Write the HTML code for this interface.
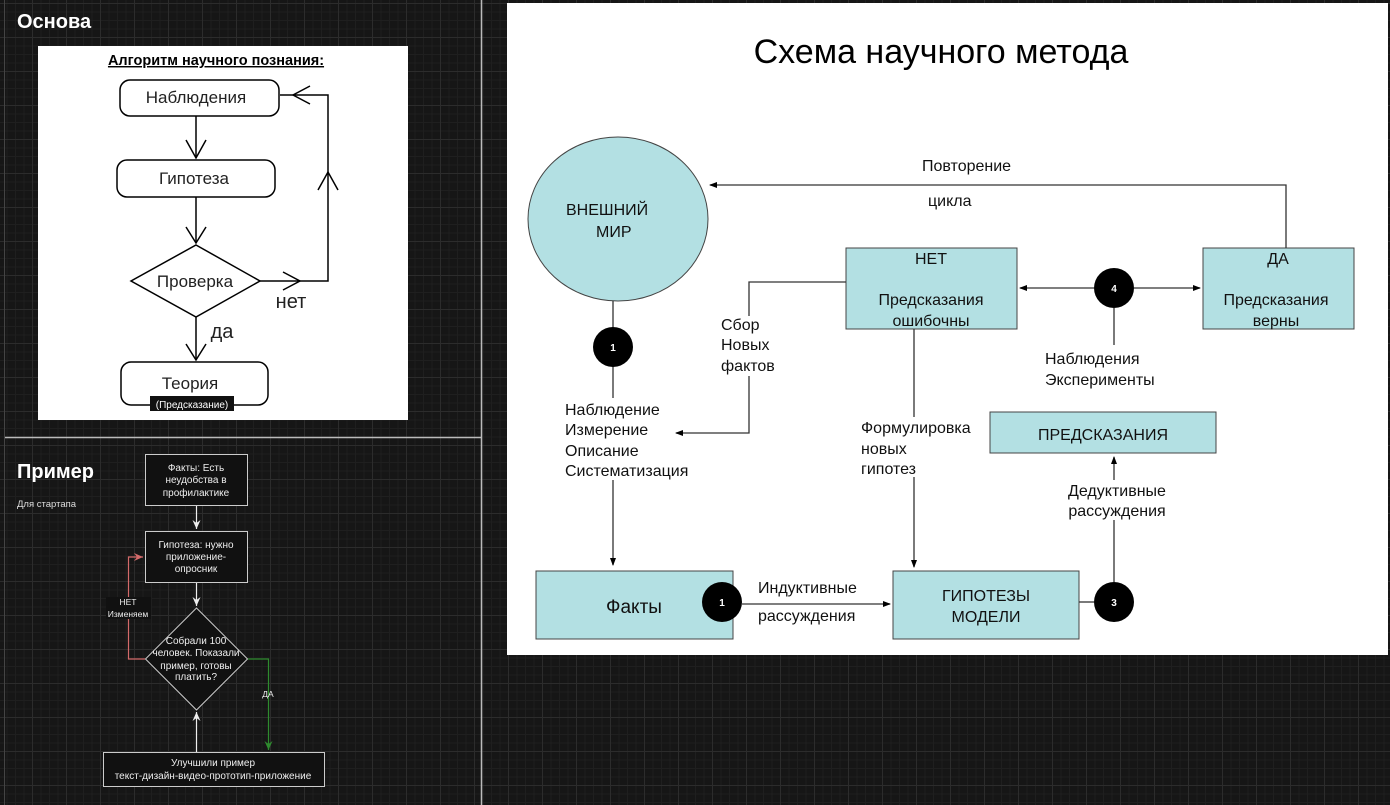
<!DOCTYPE html>
<html><head><meta charset="utf-8"><style>
html,body{margin:0;padding:0;width:1390px;height:805px;overflow:hidden}
body{background-color:#161616;
background-image:
linear-gradient(#2c2c2c 1px,transparent 1px),
linear-gradient(90deg,#2c2c2c 1px,transparent 1px),
linear-gradient(#1f1f1f 1px,transparent 1px),
linear-gradient(90deg,#1f1f1f 1px,transparent 1px);
background-size:34px 34px,34px 34px,8.5px 8.5px,8.5px 8.5px;
background-position:0 3px,-2px 0,0 3px,-2px 0;
font-family:"Liberation Sans",sans-serif}
svg{position:absolute;left:0;top:0}
</style></head><body>
<svg width="1390" height="805" viewBox="0 0 1390 805" font-family="Liberation Sans, sans-serif">
<defs>
<marker id="ab" markerWidth="8" markerHeight="8" refX="7" refY="4" orient="auto" markerUnits="userSpaceOnUse"><path d="M0,1 L8,4 L0,7z" fill="#000"/></marker>
<marker id="aw" markerWidth="10" markerHeight="10" refX="9" refY="5" orient="auto" markerUnits="userSpaceOnUse"><path d="M0,1 L9,5 L0,9 L3,5z" fill="#eee"/></marker>
<marker id="ar" markerWidth="10" markerHeight="10" refX="9" refY="5" orient="auto" markerUnits="userSpaceOnUse"><path d="M0,1 L9,5 L0,9 L3,5z" fill="#d46a6a"/></marker>
<marker id="ag" markerWidth="10" markerHeight="10" refX="9" refY="5" orient="auto" markerUnits="userSpaceOnUse"><path d="M0,1 L9,5 L0,9 L3,5z" fill="#2e8b2e"/></marker>
</defs>
<line x1="4.5" y1="0" x2="4.5" y2="805" stroke="#444" stroke-width="1"/>
<line x1="481.5" y1="0" x2="481.5" y2="805" stroke="#bbb" stroke-width="1.5"/>
<line x1="5" y1="437.5" x2="481" y2="437.5" stroke="#bbb" stroke-width="1.5"/>

<text x="17" y="28" fill="#fff" font-size="20" font-weight="bold">Основа</text>
<rect x="38" y="46" width="370" height="374" fill="#fff"/>
<text x="216" y="65" font-size="14.5" font-weight="bold" text-anchor="middle" text-decoration="underline" fill="#000">Алгоритм научного познания:</text>
<g fill="none" stroke="#000" stroke-width="1.5">
<rect x="120" y="80" width="159" height="36" rx="10"/>
<rect x="117" y="160" width="158" height="37" rx="10"/>
<path d="M196,245 L260,281 L196,317 L131,281z"/>
<rect x="121" y="362" width="147" height="43" rx="10"/>
<path d="M196,116 V158 M196,197 V243 M196,317 V360"/>
<path d="M260,281 H328 V95 H280"/>
<path d="M186,140 L196,158 L206,140 M186,227 L196,243 L206,227 M186,344 L196,360 L206,344"/>
<path d="M283,272 L300,281 L283,290 M318,190 L328,172 L338,190 M310,86 L293,95 L310,104"/>
</g>
<g font-size="17" text-anchor="middle" fill="#222">
<text x="196" y="103">Наблюдения</text>
<text x="194" y="184">Гипотеза</text>
<text x="195" y="287">Проверка</text>
<text x="190" y="389">Теория</text>
</g>
<text x="291" y="308" font-size="20" text-anchor="middle" fill="#222">нет</text>
<text x="222" y="338" font-size="20" text-anchor="middle" fill="#222">да</text>
<rect x="150" y="396" width="84" height="15" fill="#111"/>
<text x="192" y="408" font-size="10" fill="#fff" text-anchor="middle">(Предсказание)</text>

<text x="17" y="478" fill="#fff" font-size="20" font-weight="bold">Пример</text>
<text x="17" y="507" fill="#ddd" font-size="9.5">Для стартапа</text>
<g fill="#111" stroke="#ccc" stroke-width="1">
<rect x="145.5" y="454.5" width="102" height="51"/>
<rect x="145.5" y="531.5" width="102" height="51"/>
<path d="M196.5,608 L247.5,659 L196.5,710 L145.5,659z"/>
<rect x="103.5" y="752.5" width="221" height="34"/>
</g>
<g stroke="#eee" stroke-width="1.2" fill="none">
<line x1="196.5" y1="506" x2="196.5" y2="529" marker-end="url(#aw)"/>
<line x1="196.5" y1="583" x2="196.5" y2="606" marker-end="url(#aw)"/>
<line x1="196.5" y1="752" x2="196.5" y2="712" marker-end="url(#aw)"/>
</g>
<path d="M145,659 H128.5 V557 H143" stroke="#d46a6a" stroke-width="1.2" fill="none" marker-end="url(#ar)"/>
<path d="M248,659 H268.5 V750" stroke="#2e8b2e" stroke-width="1.2" fill="none" marker-end="url(#ag)"/>
<g fill="#eee" font-size="10" text-anchor="middle">
<text x="196" y="471">Факты: Есть</text>
<text x="196" y="483">неудобства в</text>
<text x="196" y="496">профилактике</text>
<text x="196" y="548">Гипотеза: нужно</text>
<text x="196" y="560">приложение-</text>
<text x="196" y="572">опросник</text>
<text x="196" y="644">Собрали 100</text>
<text x="196" y="656">человек. Показали</text>
<text x="196" y="669">пример, готовы</text>
<text x="196" y="680">платить?</text>
<text x="213" y="766">Улучшили пример</text>
<text x="213" y="779">текст-дизайн-видео-прототип-приложение</text>
</g>
<rect x="106" y="597" width="45" height="22" fill="#111"/>
<g fill="#eee" font-size="8.5" text-anchor="middle">
<text x="128" y="605">НЕТ</text>
<text x="128" y="617">Изменяем</text>
<text x="268" y="697">ДА</text>
</g>

<rect x="507" y="3" width="881" height="652" fill="#fff"/>
<text x="941" y="63" font-size="34" text-anchor="middle" fill="#000">Схема научного метода</text>
<g fill="#b3e0e3" stroke="#444" stroke-width="1">
<ellipse cx="618" cy="219" rx="90" ry="82"/>
<rect x="846" y="248" width="171" height="81"/>
<rect x="1203" y="248" width="151" height="81"/>
<rect x="990" y="412" width="226" height="41"/>
<rect x="893" y="571" width="186" height="68"/>
<rect x="536" y="571" width="197" height="68"/>
</g>
<g stroke="#333" stroke-width="1.3" fill="none">
<path d="M1286,248 V185 H710" marker-end="url(#ab)"/>
<path d="M613,301 V565" marker-end="url(#ab)"/>
<path d="M846,282 H749 V433 H676" marker-end="url(#ab)"/>
<path d="M914,329 V567" marker-end="url(#ab)"/>
<path d="M1094,288 H1020" marker-end="url(#ab)"/>
<path d="M1134,288 H1200" marker-end="url(#ab)"/>
<path d="M1114,308 V345"/>
<path d="M742,604 H890" marker-end="url(#ab)"/>
<path d="M1079,602 H1094"/>
<path d="M1114,582 V457" marker-end="url(#ab)"/>
</g>
<g fill="#000">
<circle cx="613" cy="347" r="20"/>
<circle cx="1114" cy="288" r="20"/>
<circle cx="1114" cy="602" r="20"/>
<circle cx="722" cy="602" r="20"/>
</g>
<g fill="#fff" font-size="10" font-weight="bold" text-anchor="middle">
<text x="613" y="351">1</text><text x="1114" y="292">4</text><text x="1114" y="606">3</text><text x="722" y="606">1</text>
</g>
<rect x="560" y="398" width="104" height="82" fill="#fff"/>
<rect x="718" y="316" width="64" height="60" fill="#fff"/>
<rect x="858" y="417" width="122" height="60" fill="#fff"/>
<rect x="1062" y="480" width="110" height="40" fill="#fff"/>
<g font-size="16" fill="#111">
<text x="922" y="171">Повторение</text>
<text x="928" y="206">цикла</text>
<text x="566" y="215">ВНЕШНИЙ</text>
<text x="596" y="237">МИР</text>
<text x="721" y="330">Сбор</text>
<text x="721" y="350">Новых</text>
<text x="721" y="371">фактов</text>
<text x="565" y="415">Наблюдение</text>
<text x="565" y="435">Измерение</text>
<text x="565" y="456">Описание</text>
<text x="565" y="476">Систематизация</text>
<text x="931" y="264" text-anchor="middle">НЕТ</text>
<text x="931" y="305" text-anchor="middle">Предсказания</text>
<text x="931" y="326" text-anchor="middle">ошибочны</text>
<text x="1278" y="264" text-anchor="middle">ДА</text>
<text x="1276" y="305" text-anchor="middle">Предсказания</text>
<text x="1276" y="326" text-anchor="middle">верны</text>
<text x="1045" y="364">Наблюдения</text>
<text x="1045" y="385">Эксперименты</text>
<text x="861" y="433">Формулировка</text>
<text x="861" y="454">новых</text>
<text x="861" y="474">гипотез</text>
<text x="1103" y="440" text-anchor="middle">ПРЕДСКАЗАНИЯ</text>
<text x="1117" y="496" text-anchor="middle">Дедуктивные</text>
<text x="1117" y="516" text-anchor="middle">рассуждения</text>
<text x="986" y="601" text-anchor="middle">ГИПОТЕЗЫ</text>
<text x="986" y="622" text-anchor="middle">МОДЕЛИ</text>
<text x="758" y="593">Индуктивные</text>
<text x="758" y="621">рассуждения</text>
</g>
<text x="634" y="613" font-size="19" text-anchor="middle" fill="#111">Факты</text>
</svg>
</body></html>
